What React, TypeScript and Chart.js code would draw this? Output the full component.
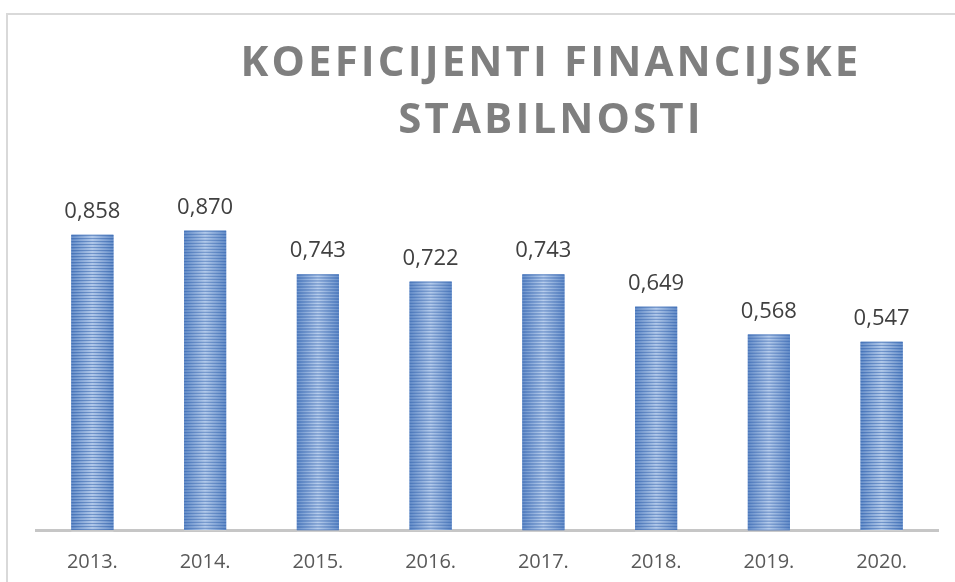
import React, { useEffect, useRef } from "react";
import { Chart, registerables } from "chart.js";

Chart.register(...registerables);

const categories = ["2013.", "2014.", "2015.", "2016.", "2017.", "2018.", "2019.", "2020."];
const values = [0.858, 0.87, 0.743, 0.722, 0.743, 0.649, 0.568, 0.547];
const valueLabels = ["0,858", "0,870", "0,743", "0,722", "0,743", "0,649", "0,568", "0,547"];
const titleLines = ["KOEFICIJENTI FINANCIJSKE", "STABILNOSTI"];

const stripedBars = {
  id: "stripedBars",
  afterDatasetsDraw(chart: any) {
    const ctx = chart.ctx;
    const meta = chart.getDatasetMeta(0);
    meta.data.forEach((bar: any) => {
      const { x, y, base, width } = bar.getProps(["x", "y", "base", "width"], true);
      const left = x - width / 2;
      const top = y;
      const h = base - y;
      ctx.save();
      const g = ctx.createLinearGradient(left, 0, left + width, 0);
      g.addColorStop(0, "#5582c4");
      g.addColorStop(0.5, "#aec7ea");
      g.addColorStop(1, "#5582c4");
      ctx.fillStyle = g;
      ctx.fillRect(left, top, width, h);
      for (let yy = top; yy < base; yy += 3) {
        ctx.fillStyle = "rgba(55,100,172,0.6)";
        ctx.fillRect(left, yy, width, 1);
        ctx.fillStyle = "rgba(255,255,255,0.22)";
        ctx.fillRect(left, yy + 2, width, 1);
      }
      ctx.restore();
    });
  },
  afterDraw(chart: any) {
    const ctx = chart.ctx;
    const meta = chart.getDatasetMeta(0);
    ctx.save();
    ctx.font = "22px 'Open Sans'";
    ctx.fillStyle = "#404040";
    ctx.textAlign = "center";
    ctx.textBaseline = "alphabetic";
    meta.data.forEach((bar: any, i: number) => {
      ctx.fillText(valueLabels[i], bar.x, bar.y - 17);
    });
    ctx.restore();
  },
};

export default function App() {
  const ref = useRef<HTMLCanvasElement>(null);
  useEffect(() => {
    const chart = new Chart(ref.current!, {
      type: "bar",
      data: {
        labels: categories,
        datasets: [
          {
            data: values,
            backgroundColor: "#6a93cf",
            barPercentage: 0.373,
            categoryPercentage: 1,
          },
        ],
      },
      options: {
        animation: false,
        responsive: false,
        maintainAspectRatio: false,
        layout: { padding: { left: 36, right: 17, top: 186, bottom: 10 } },
        plugins: { legend: { display: false }, tooltip: { enabled: false }, title: { display: false } },
        scales: {
          x: {
            grid: { display: false, drawTicks: false },
            border: { display: true, color: "#c6c6c6", width: 3 },
            ticks: { color: "#595959", font: { family: "'Open Sans'", size: 20 }, padding: 20 },
            afterFit: (scale: any) => {
              scale.height = 42;
            },
          },
          y: {
            display: false,
            min: 0,
            max: 1,
          },
        },
      },
      plugins: [stripedBars],
    });
    return () => chart.destroy();
  }, []);

  return (
    <div style={{ position: "fixed", left: 0, top: 0, width: 955, height: 582, overflow: "hidden", background: "#fff" }}>
      <div
        style={{
          position: "absolute",
          left: 6,
          top: 13,
          width: 2000,
          height: 2000,
          borderLeft: "2px solid #d9d9d9",
          borderTop: "2px solid #d9d9d9",
        }}
      />
      <canvas ref={ref} width={955} height={582} style={{ position: "absolute", left: 0, top: 0, display: "block" }} />
      <div
        style={{
          position: "absolute",
          left: 0,
          top: 31,
          width: 1102,
          textAlign: "center",
          fontFamily: "'Open Sans', sans-serif",
          fontWeight: 700,
          fontSize: 42,
          lineHeight: "57px",
          letterSpacing: 3.1,
          color: "#7f7f7f",
        }}
      >
        {titleLines.map((t) => (
          <div key={t}>{t}</div>
        ))}
      </div>
    </div>
  );
}
